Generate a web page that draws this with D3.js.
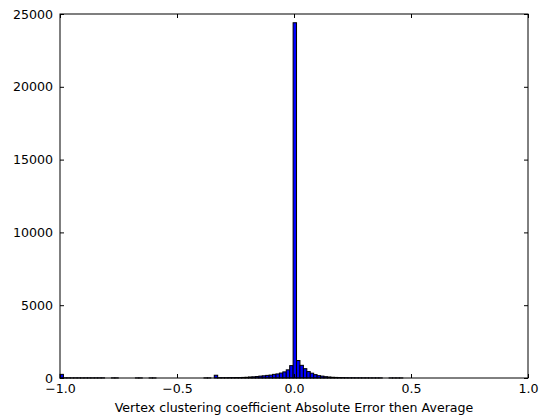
<!DOCTYPE html>
<html>
<head>
<meta charset="utf-8">
<script src="https://cdn.jsdelivr.net/npm/d3@7"></script>
<style>
  body { margin: 0; background: #fff; }
  text { font-family: "DejaVu Sans", sans-serif; }
</style>
</head>
<body>
<div id="chart"></div>
<script>
// Histogram range (data min / max) and number of bins
var binMin = -1.0;
var binMax = 0.465;

// Counts per bin, 100 bins from binMin to binMax
var counts = [
  250, 10, 10, 8, 10, 10, 8, 10, 10, 8, 10, 10, 10, 0, 0, 8, 8, 0, 0, 0,
  0, 0, 6, 6, 0, 0, 6, 6, 0, 0, 0, 0, 0, 0, 0, 0, 0, 0, 0, 0,
  0, 0, 8, 8, 0, 190, 20, 20, 20, 25, 25, 30, 30, 40, 50, 70, 80, 100, 130, 150,
  180, 200, 250, 280, 340, 420, 560, 850, 24400, 1200, 870, 640, 440, 330, 230, 160, 130, 90, 70, 50,
  40, 30, 25, 20, 15, 15, 12, 12, 10, 10, 8, 8, 8, 8, 0, 0, 6, 6, 6, 6
];

var xTicks = [-1.0, -0.5, 0.0, 0.5, 1.0];
var yTicks = [0, 5000, 10000, 15000, 20000, 25000];
var xLabel = "Vertex clustering coefficient Absolute Error then Average";

var W = 542, H = 419;
var margin = { top: 14, right: 14, bottom: 41, left: 60 };
var width = W - margin.left - margin.right;
var height = H - margin.top - margin.bottom;
var fontSize = "12.6px";

var binWidth = (binMax - binMin) / counts.length;
var bins = counts.map(function(c, i) {
  return { x0: binMin + i * binWidth, x1: binMin + (i + 1) * binWidth, count: c };
});

var x = d3.scaleLinear().domain([-1, 1]).range([0, width]);
var y = d3.scaleLinear().domain([0, 25000]).range([height, 0]);

var svg = d3.select("#chart").append("svg")
  .attr("width", W)
  .attr("height", H);

var g = svg.append("g")
  .attr("transform", "translate(" + margin.left + "," + margin.top + ")");

// Bars (skip empty bins)
g.selectAll(".bar")
  .data(bins.filter(function(d) { return d.count > 0; }))
  .enter().append("rect")
  .attr("class", "bar")
  .attr("x", function(d) { return x(d.x0); })
  .attr("y", function(d) { return y(d.count); })
  .attr("width", function(d) { return x(d.x1) - x(d.x0); })
  .attr("height", function(d) { return y(0) - y(d.count); })
  .attr("fill", "#0000ff")
  .attr("stroke", "#000")
  .attr("stroke-width", 1);

var fmtX = function(d) { return d3.format(".1f")(d).replace("-", "\u2212"); };

// Axes, ticks pointing inside (matplotlib classic)
var xBottom = g.append("g")
  .attr("transform", "translate(0," + height + ")")
  .call(d3.axisBottom(x).tickValues(xTicks).tickFormat(fmtX).tickSize(-4).tickPadding(6));
var xTop = g.append("g")
  .call(d3.axisTop(x).tickValues(xTicks).tickFormat("").tickSize(-4));
var yLeft = g.append("g")
  .call(d3.axisLeft(y).tickValues(yTicks).tickFormat(d3.format("d")).tickSize(-4).tickPadding(7));
var yRight = g.append("g")
  .attr("transform", "translate(" + width + ",0)")
  .call(d3.axisRight(y).tickValues(yTicks).tickFormat("").tickSize(-4));

[xBottom, xTop, yLeft, yRight].forEach(function(a) {
  a.select(".domain").remove();
  a.selectAll(".tick line").attr("stroke", "#000");
  a.selectAll(".tick text")
    .attr("fill", "#000")
    .style("font-size", fontSize)
    .style("font-family", "DejaVu Sans, sans-serif");
});

// Frame
g.append("rect")
  .attr("x", 0)
  .attr("y", 0)
  .attr("width", width)
  .attr("height", height)
  .attr("fill", "none")
  .attr("stroke", "#000")
  .attr("stroke-width", 1);

// X axis label
svg.append("text")
  .attr("x", margin.left + width / 2)
  .attr("y", H - 7)
  .attr("text-anchor", "middle")
  .style("font-size", fontSize)
  .text(xLabel);
</script>
</body>
</html>
